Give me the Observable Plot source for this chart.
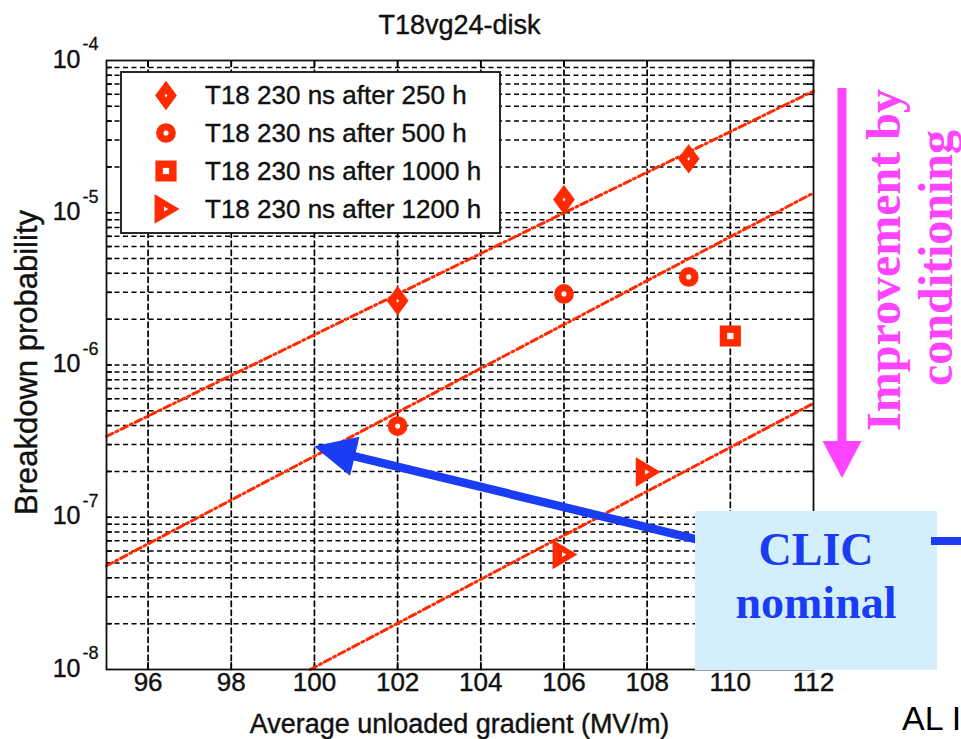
<!DOCTYPE html>
<html><head><meta charset="utf-8">
<script src="https://cdn.jsdelivr.net/npm/d3@7"></script>
<script src="https://cdn.jsdelivr.net/npm/@observablehq/plot@0.6"></script>
<style>
html,body{margin:0;padding:0;background:#fff;}
#chart{position:relative;width:961px;height:739px;overflow:hidden;}
svg{display:block;}
</style></head><body><div id="chart"></div>
<script>
// ---------- data ----------
const seriesLabels = ["T18 230 ns after 250 h", "T18 230 ns after 500 h", "T18 230 ns after 1000 h", "T18 230 ns after 1200 h"];
const gradient250 = [102, 106, 109];
const bdp250 = [2.64e-6, 1.22e-5, 2.26e-5];
const gradient500 = [102, 106, 109];
const bdp500 = [3.97e-7, 2.93e-6, 3.79e-6];
const gradient1000 = [110];
const bdp1000 = [1.55e-6];
const gradient1200 = [106, 108];
const bdp1200 = [5.7e-8, 1.98e-7];
// fitted trend lines (end points)
const fitGradient = [[95, 112], [95, 112], [99.9, 112]];
const fitBdp = [[3.4e-7, 6.3e-5], [4.8e-8, 1.35e-5], [1e-8, 5.6e-7]];
// axes
const xTicks = [96, 98, 100, 102, 104, 106, 108, 110, 112];
const xGrid = [96, 98, 100, 102, 104, 106, 108, 110];
const yDecades = [1e-8, 1e-7, 1e-6, 1e-5, 1e-4];
const yExponents = ["-8", "-7", "-6", "-5", "-4"];
const yMantissas = [1, 2, 3, 4, 5, 6, 7, 8, 9];
const titleText = "T18vg24-disk";
const xLabel = "Average unloaded gradient (MV/m)";
const yLabel = "Breakdown probability";
// annotation: CLIC nominal target point and arrow tail
const clicTarget = {gradient: 100, bdp: 2.9e-7};
const clicTail = {gradient: 109.3, bdp: 7.0e-8};

// ---------- derived tables ----------
const series = [
  {label: seriesLabels[0], g: gradient250, p: bdp250},
  {label: seriesLabels[1], g: gradient500, p: bdp500},
  {label: seriesLabels[2], g: gradient1000, p: bdp1000},
  {label: seriesLabels[3], g: gradient1200, p: bdp1200}
];
const points = series.flatMap((s, k) => s.g.map((g, i) => ({k, g, p: s.p[i]})));
const fits = fitGradient.flatMap((gs, k) => gs.map((g, i) => ({k, g, p: fitBdp[k][i]})));
const yMinor = yDecades.slice(0, -1).flatMap(d => yMantissas.map(m => m * d)).filter(v => v > 1e-8);
const decadeLabels = yDecades.map((d, i) => ({d, e: yExponents[i]}));
const vGrid = xGrid.flatMap(g => [{g, p: 1e-8}, {g, p: 1e-4}]);

// ---------- symbols ----------
const R = c => Math.sqrt(c / Math.PI);
const symDiamond = {draw(ctx, s){const r=R(s); ctx.moveTo(0,-1.25*r); ctx.lineTo(0.92*r,0); ctx.lineTo(0,1.25*r); ctx.lineTo(-0.92*r,0); ctx.closePath();}};
const symCircle = {draw(ctx, s){const r=R(s)*0.85; ctx.moveTo(r,0); ctx.arc(0,0,r,0,2*Math.PI); ctx.closePath();}};
const symSquare = {draw(ctx, s){const h=R(s)*0.92; ctx.rect(-h,-h,2*h,2*h);}};
const symTri = {draw(ctx, s){const r=R(s); ctx.moveTo(-1.0*r,-1.25*r); ctx.lineTo(1.1*r,0); ctx.lineTo(-1.0*r,1.25*r); ctx.closePath();}};
const symbols = [symDiamond, symCircle, symSquare, symTri];
const holeR = [1.5, 3.0, 3.4, 2.0];
const markerR = 10.2;

const RED = "#ff2a00";
const W = 961, H = 739, mL = 106, mR = 148, mT = 60, mB = 70;
const fw = W - mL - mR, fh = H - mT - mB;
const font = "'Liberation Sans', Arial, Helvetica, sans-serif";
const serif = "'Liberation Serif', 'Times New Roman', serif";
const INK = "#111";

const markMarks = symbols.flatMap((sym, k) => [
  Plot.dot(points.filter(d => d.k === k), {x: "g", y: "p", symbol: sym, r: markerR, fill: RED, stroke: RED, strokeWidth: 2.4}),
  Plot.dot(points.filter(d => d.k === k), {x: "g", y: "p", symbol: sym, r: holeR[k], fill: "white", stroke: "none"})
]);

const plot = Plot.plot({
  width: W, height: H,
  marginLeft: mL, marginRight: mR, marginTop: mT, marginBottom: mB,
  x: {type: "linear", domain: [95, 112], axis: null},
  y: {type: "log", domain: [1e-8, 1e-4], axis: null},
  marks: [
    Plot.ruleY(yMinor, {y: d => d, stroke: "#000", strokeWidth: 1.5, strokeDasharray: "5,3.5"}),
    // vertical dashed grid as paths through the scales
    Plot.line(vGrid, {x: "g", y: "p", z: "g", stroke: "#000", strokeWidth: 1.7, strokeDasharray: "5.5,3.5"}),
    // inward ticks
    Plot.tickX(xTicks, {x: d => d, stroke: "#000", strokeWidth: 1.6, insetTop: fh - 7}),
    Plot.tickX(xTicks, {x: d => d, stroke: "#000", strokeWidth: 1.6, insetBottom: fh - 7}),
    Plot.tickY(yMinor, {y: d => d, stroke: "#000", strokeWidth: 1.6, insetRight: fw - 6}),
    Plot.tickY(yMinor, {y: d => d, stroke: "#000", strokeWidth: 1.6, insetLeft: fw - 6}),
    // tick labels
    Plot.text(xTicks, {x: d => d, frameAnchor: "bottom", dy: 21, text: d => String(d), fontFamily: font, fontSize: 26, fill: INK, stroke: INK, strokeWidth: 0.4}),
    Plot.text(decadeLabels, {y: "d", frameAnchor: "left", dx: -26, dy: -1, textAnchor: "end", text: () => "10", fontFamily: font, fontSize: 25, fill: INK, stroke: INK, strokeWidth: 0.4}),
    Plot.text(decadeLabels, {y: "d", frameAnchor: "left", dx: -24, dy: -16, textAnchor: "start", text: "e", fontFamily: font, fontSize: 18, fill: INK, stroke: INK, strokeWidth: 0.3}),
    // fitted lines
    Plot.line(fits, {x: "g", y: "p", z: "k", stroke: RED, strokeWidth: 3, strokeDasharray: "7,3.5,2,3.5"}),
    ...markMarks,
    Plot.frame({stroke: "#111", strokeWidth: 1.8})
  ]
});

document.getElementById("chart").appendChild(plot);
const svg = d3.select(plot);
const xs = plot.scale("x"), ys = plot.scale("y");
const px = v => xs.apply(v), py = v => ys.apply(v);

function label(sel, size, anchor) {
  return sel.attr("font-family", font).attr("font-size", size).attr("text-anchor", anchor)
    .attr("fill", INK).attr("stroke", INK).attr("stroke-width", 0.4);
}
// title and axis labels
label(svg.append("text").attr("x", mL + fw / 2).attr("y", 34), 27, "middle").text(titleText);
label(svg.append("text").attr("x", mL + fw / 2).attr("y", 733), 27, "middle").text(xLabel);
label(svg.append("text").attr("transform", `translate(37,${mT + fh / 2 - 2}) rotate(-90)`), 31, "middle").text(yLabel);

// legend
const lg = svg.append("g");
lg.append("rect").attr("x", 121).attr("y", 72).attr("width", 379).attr("height", 161)
  .attr("fill", "white").attr("stroke", "#111").attr("stroke-width", 1.8);
const rowY = [95.5, 133, 171, 209];
series.forEach((s, k) => {
  lg.append("path").attr("transform", `translate(166,${rowY[k]})`)
    .attr("d", d3.symbol().type(symbols[k]).size(markerR * markerR * Math.PI)())
    .attr("fill", RED).attr("stroke", RED).attr("stroke-width", 2.4);
  lg.append("path").attr("transform", `translate(166,${rowY[k]})`)
    .attr("d", d3.symbol().type(symbols[k]).size(holeR[k] * holeR[k] * Math.PI)())
    .attr("fill", "white");
  label(lg.append("text").attr("x", 205).attr("y", rowY[k] + 8.5), 26, "start").text(s.label);
});

// arrow helper
function arrow(x1, y1, x2, y2, sw, hl, hw) {
  const dx = x2 - x1, dy = y2 - y1, L = Math.hypot(dx, dy);
  const ux = dx / L, uy = dy / L, nx = -uy, ny = ux;
  const bx = x2 - ux * hl, by = y2 - uy * hl;
  const p = [
    [x1 + nx * sw / 2, y1 + ny * sw / 2], [bx + nx * sw / 2, by + ny * sw / 2],
    [bx + nx * hw / 2, by + ny * hw / 2], [x2, y2],
    [bx - nx * hw / 2, by - ny * hw / 2], [bx - nx * sw / 2, by - ny * sw / 2],
    [x1 - nx * sw / 2, y1 - ny * sw / 2]
  ];
  return "M" + p.map(q => q.join(",")).join("L") + "Z";
}
const BLUE = "#1a3cf2", MAG = "#ff44ff";
// blue arrow to CLIC nominal point
svg.append("path").attr("d", arrow(px(clicTail.gradient), py(clicTail.bdp), px(clicTarget.gradient), py(clicTarget.bdp), 8.5, 42, 40))
  .attr("fill", BLUE);
// CLIC box
svg.append("rect").attr("x", 695).attr("y", 511).attr("width", 242).attr("height", 159).attr("fill", "#d4effc");
svg.append("rect").attr("x", 931).attr("y", 537).attr("width", 30).attr("height", 8).attr("fill", BLUE);
svg.append("text").attr("x", 816).attr("y", 565).attr("text-anchor", "middle").attr("font-family", serif)
  .attr("font-weight", "bold").attr("font-size", 46).attr("fill", BLUE).text("CLIC");
svg.append("text").attr("x", 816).attr("y", 618).attr("text-anchor", "middle").attr("font-family", serif)
  .attr("font-weight", "bold").attr("font-size", 46).attr("fill", BLUE).text("nominal");
// magenta arrow + text
svg.append("path").attr("d", arrow(842, 88, 842, 478, 9, 37, 39)).attr("fill", MAG);
svg.append("text").attr("transform", "translate(900,260) rotate(-90)").attr("text-anchor", "middle")
  .attr("font-family", serif).attr("font-weight", "bold").attr("font-size", 48).attr("fill", MAG).text("Improvement by");
svg.append("text").attr("transform", "translate(952,258) rotate(-90)").attr("text-anchor", "middle")
  .attr("font-family", serif).attr("font-weight", "bold").attr("font-size", 48).attr("fill", MAG).text("conditioning");
// footer fragment (cut at the right edge, as in the reference)
svg.append("text").attr("x", 902).attr("y", 730).attr("text-anchor", "start").attr("font-family", font)
  .attr("font-size", 34).attr("fill", "#000").text("AL I");
</script></body></html>
